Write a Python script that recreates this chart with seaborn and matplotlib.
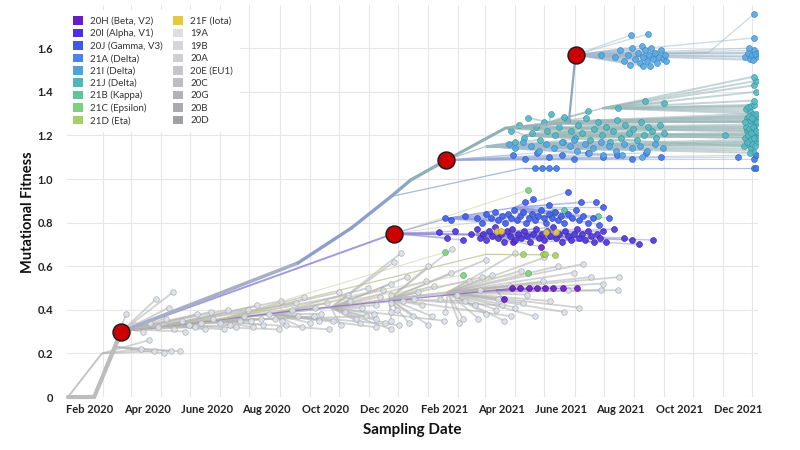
import pandas as pd
import numpy as np

import matplotlib
matplotlib.use("Agg")
import matplotlib.pyplot as plt
from matplotlib.patches import Patch
from matplotlib.collections import LineCollection
import seaborn as sns

sns.set_theme(style="white")
plt.rcParams['font.family'] = ['Lato', 'DejaVu Sans']

base = pd.Timestamp("2020-01-01")

# axis ticks
x_tick_dates = ["2020-02-01", "2020-04-01", "2020-06-01", "2020-08-01", "2020-10-01", "2020-12-01",
                "2021-02-01", "2021-04-01", "2021-06-01", "2021-08-01", "2021-10-01", "2021-12-01"]
x_tick_labels = ["Feb 2020", "Apr 2020", "June 2020", "Aug 2020", "Oct 2020", "Dec 2020",
                 "Feb 2021", "Apr 2021", "June 2021", "Aug 2021", "Oct 2021", "Dec 2021"]
y_ticks = [0, 0.2, 0.4, 0.6, 0.8, 1.0, 1.2, 1.4, 1.6]
y_tick_labels = ["0", "0.2", "0.4", "0.6", "0.8", "1.0", "1.2", "1.4", "1.6"]

# legend (clade colours)
legend_names = ["20H (Beta, V2)", "20I (Alpha, V1)", "20J (Gamma, V3)", "21A (Delta)", "21I (Delta)",
                "21J (Delta)", "21B (Kappa)", "21C (Epsilon)", "21D (Eta)",
                "21F (Iota)", "19A", "19B", "20A", "20E (EU1)", "20C", "20G", "20B", "20D"]
legend_colors = ["#681cc6", "#4e2fd8", "#3f58e6", "#4a86ea", "#4ea3dc", "#4fb8bc", "#5fc49d", "#7dd07f", "#a5d064",
                 "#e4c940", "#dcdee1", "#d4d6d9", "#cdcfd3", "#c4c6ca", "#bcbec2", "#b1b3b7", "#a8aaae", "#9fa1a5"]

# internal tree nodes: day since 2020-01-01, fitness, parent node, branch group
node_day = [9, 36, 64, 246, 301, 342, 362, 399, 460, 525, 532,
            44, 56, 72, 110, 160, 220, 280, 340, 400,
            345, 430, 400, 470, 250, 450, 170, 440,
            440, 480, 505, 560, 478, 669]
node_fit = [0.0, 0.0, 0.30, 0.615, 0.775, 0.92, 0.995, 1.087, 1.234, 1.257, 1.57,
            0.20, 0.23, 0.31, 0.33, 0.35, 0.38, 0.41, 0.45, 0.48,
            0.75, 0.745, 0.82, 0.87, 0.40, 0.49, 0.36, 0.655,
            1.15, 1.20, 1.26, 1.325, 1.05, 1.58]
node_parent = [-1, 0, 1, 2, 3, 4, 5, 6, 7, 8, 9,
               0, 1, 2, 13, 14, 15, 16, 17, 18,
               2, 20, 20, 22, 2, 24, 2, 26,
               7, 8, 8, 30, 5, 10]
node_group = ["trunk"] * 11 + ["grey"] * 9 + ["alpha", "alpha", "gamma", "gamma", "beta", "beta", "eps", "eps",
                                              "teal", "teal", "teal", "teal", "d21a", "top"]
red_nodes = [2, 20, 7, 10]

# sampled tips: (day, fitness, parent node)
grey_tips = [
    (84, 0.22, 11), (98, 0.21, 11), (115, 0.21, 12), (108, 0.20, 12), (124, 0.21, 12), (92, 0.26, 11),
    (69, 0.38, 12), (100, 0.45, 2), (117, 0.48, 2), (113, 0.41, 2),
    (78, 0.33, 2), (86, 0.30, 13), (94, 0.34, 13), (102, 0.32, 13), (110, 0.36, 13), (118, 0.31, 14),
    (126, 0.35, 13), (134, 0.33, 14), (142, 0.38, 13), (150, 0.31, 14), (158, 0.36, 14), (166, 0.34, 14),
    (174, 0.40, 13), (182, 0.32, 15), (190, 0.37, 14), (198, 0.35, 15), (204, 0.42, 14), (210, 0.33, 15),
    (216, 0.38, 15), (222, 0.36, 15), (228, 0.44, 14), (234, 0.33, 16), (240, 0.40, 15), (246, 0.37, 16),
    (252, 0.46, 15), (258, 0.34, 16), (264, 0.41, 16), (270, 0.38, 16), (276, 0.43, 16), (282, 0.35, 16),
    (288, 0.48, 15), (294, 0.39, 17), (300, 0.44, 17), (306, 0.36, 17), (312, 0.41, 17), (318, 0.50, 16),
    (324, 0.38, 17), (326, 0.32, 16), (326, 0.36, 17), (326, 0.42, 17), (330, 0.46, 17), (336, 0.34, 17),
    (342, 0.31, 17), (342, 0.35, 18), (342, 0.39, 18), (342, 0.43, 18), (342, 0.47, 18), (342, 0.52, 17),
    (348, 0.40, 18), (354, 0.44, 18), (358, 0.55, 17), (364, 0.37, 18), (370, 0.48, 18), (374, 0.42, 18),
    (380, 0.33, 18), (386, 0.51, 18), (392, 0.45, 19), (398, 0.39, 19), (404, 0.57, 18), (410, 0.47, 19),
    (416, 0.36, 19), (422, 0.53, 19), (428, 0.42, 19), (434, 0.49, 19), (440, 0.38, 19), (446, 0.56, 19),
    (452, 0.45, 19), (458, 0.35, 19), (464, 0.51, 19), (470, 0.41, 19), (476, 0.58, 19), (482, 0.47, 19),
    (490, 0.37, 19), (498, 0.53, 19), (506, 0.44, 19), (514, 0.60, 19), (524, 0.49, 19), (536, 0.41, 19),
    (548, 0.55, 19), (558, 0.49, 19), (540, 0.61, 19),
    (345, 0.62, 17), (352, 0.66, 17), (380, 0.60, 18), (405, 0.68, 18), (440, 0.63, 18), (470, 0.66, 19),
    (500, 0.64, 19),
    (130, 0.30, 13), (146, 0.34, 14), (170, 0.31, 14), (186, 0.35, 15), (200, 0.32, 15), (230, 0.35, 16),
    (250, 0.32, 16), (268, 0.35, 16), (290, 0.33, 17), (310, 0.34, 17), (360, 0.34, 18), (384, 0.37, 18),
    (412, 0.34, 19), (432, 0.36, 19), (450, 0.40, 19), (478, 0.43, 19),
    (140, 0.32, 13), (156, 0.39, 13), (176, 0.33, 13), (194, 0.40, 14), (208, 0.36, 13), (226, 0.31, 14),
    (244, 0.43, 14), (262, 0.37, 14), (278, 0.31, 15), (298, 0.47, 15), (316, 0.37, 15), (334, 0.49, 16),
    (350, 0.33, 16), (366, 0.45, 17), (378, 0.53, 17), (396, 0.35, 17), (418, 0.44, 18), (436, 0.55, 18),
    (456, 0.42, 18), (466, 0.37, 18), (486, 0.50, 18), (520, 0.39, 19), (530, 0.57, 19), (560, 0.52, 19),
    (576, 0.49, 19), (577, 0.55, 19)]

alpha_tips = [
    (391, 0.755, 20), (400, 0.73, 20), (408, 0.76, 20), (416, 0.72, 20), (424, 0.75, 20), (430, 0.77, 21),
    (434, 0.73, 21), (437, 0.75, 21), (440, 0.72, 21), (443, 0.76, 21), (446, 0.74, 21), (449, 0.78, 21),
    (452, 0.73, 21), (455, 0.75, 21), (458, 0.71, 21), (461, 0.76, 21), (464, 0.74, 21), (467, 0.77, 21),
    (470, 0.72, 21), (473, 0.75, 21), (476, 0.73, 21), (479, 0.76, 21), (482, 0.74, 21), (485, 0.71, 21),
    (488, 0.75, 21), (491, 0.77, 21), (494, 0.73, 21), (497, 0.75, 21), (500, 0.72, 21), (503, 0.76, 21),
    (506, 0.74, 21), (509, 0.78, 21), (512, 0.73, 21), (515, 0.75, 21), (518, 0.71, 21), (521, 0.76, 21),
    (524, 0.74, 21), (527, 0.72, 21), (530, 0.75, 21), (533, 0.77, 21), (536, 0.73, 21), (539, 0.75, 21),
    (542, 0.72, 21), (545, 0.76, 21), (548, 0.74, 21), (551, 0.71, 21), (554, 0.75, 21), (557, 0.73, 21),
    (560, 0.76, 21), (563, 0.71, 21), (572, 0.77, 21), (582, 0.73, 21), (590, 0.72, 21), (597, 0.70, 21),
    (612, 0.72, 21)]

gamma_tips = [
    (398, 0.82, 22), (404, 0.81, 22), (418, 0.83, 22), (430, 0.82, 22), (436, 0.80, 22), (440, 0.84, 22),
    (445, 0.82, 22), (449, 0.85, 22), (452, 0.81, 22), (456, 0.83, 22), (459, 0.80, 22), (462, 0.84, 22),
    (466, 0.82, 22), (469, 0.86, 23), (472, 0.81, 22), (475, 0.83, 23), (478, 0.85, 23), (481, 0.80, 22),
    (484, 0.82, 23), (487, 0.84, 23), (490, 0.81, 23), (493, 0.83, 23), (496, 0.86, 23), (499, 0.82, 23),
    (502, 0.80, 22), (505, 0.84, 23), (508, 0.82, 23), (511, 0.85, 23), (514, 0.81, 23), (517, 0.83, 23),
    (520, 0.80, 23), (524, 0.84, 23), (528, 0.82, 23), (532, 0.86, 23), (536, 0.81, 23), (540, 0.83, 23),
    (545, 0.80, 23), (550, 0.82, 23), (556, 0.79, 23), (480, 0.895, 23), (488, 0.91, 23), (505, 0.88, 23),
    (524, 0.94, 23), (538, 0.895, 23), (553, 0.895, 23), (560, 0.87, 23), (566, 0.82, 23)]

beta_tips = [(458, 0.45, 25), (467, 0.50, 25), (475, 0.50, 25), (484, 0.50, 25), (492, 0.50, 25),
             (501, 0.50, 25), (509, 0.50, 25), (519, 0.50, 25), (534, 0.50, 25), (468, 0.71, 21), (496, 0.69, 21)]
epsilon_tips = [(398, 0.665, 26), (416, 0.56, 26), (483, 0.57, 26), (483, 0.95, 20), (509, 0.85, 20)]
eta_tips = [(478, 0.655, 27), (498, 0.655, 27), (501, 0.655, 27), (511, 0.65, 27)]
kappa_tips = [(555, 0.83, 22), (520, 0.86, 22)]
iota_tips = [(451, 0.76, 21), (455, 0.76, 21), (502, 0.757, 21), (512, 0.755, 21)]

delta21j_tips = [
    (466, 1.22, 8), (470, 1.17, 28), (474, 1.25, 8), (479, 1.19, 29), (483, 1.28, 30), (487, 1.21, 29),
    (491, 1.24, 8), (495, 1.18, 28), (499, 1.26, 30), (503, 1.22, 29), (507, 1.30, 30), (511, 1.20, 29),
    (515, 1.24, 8), (519, 1.17, 28), (523, 1.27, 30), (527, 1.22, 29), (531, 1.19, 29), (535, 1.25, 30),
    (539, 1.21, 8), (543, 1.28, 30), (547, 1.18, 29), (551, 1.23, 8), (555, 1.26, 30), (559, 1.20, 29),
    (563, 1.24, 30), (567, 1.17, 28), (571, 1.22, 29), (575, 1.27, 30), (579, 1.19, 29), (583, 1.25, 30),
    (587, 1.21, 8), (591, 1.23, 29), (595, 1.18, 28), (599, 1.26, 30), (603, 1.20, 29), (607, 1.24, 30),
    (611, 1.22, 29), (615, 1.19, 29), (619, 1.25, 30), (623, 1.21, 29),
    (520, 1.285, 30), (576, 1.325, 31), (604, 1.36, 31), (623, 1.35, 31), (545, 1.31, 30),
    (706, 1.15, 29), (709, 1.22, 8), (711, 1.18, 28), (713, 1.26, 30), (715, 1.13, 28), (717, 1.20, 29),
    (719, 1.29, 30), (708, 1.24, 8), (710, 1.16, 28), (712, 1.31, 31), (714, 1.21, 29), (716, 1.27, 30),
    (718, 1.17, 28), (707, 1.19, 29), (709, 1.28, 30), (711, 1.23, 8), (713, 1.14, 28), (715, 1.30, 31),
    (717, 1.25, 8), (719, 1.19, 29), (708, 1.32, 31), (710, 1.20, 29), (712, 1.27, 30), (714, 1.16, 28),
    (716, 1.23, 8), (718, 1.30, 30), (707, 1.26, 30), (709, 1.17, 28), (711, 1.29, 30), (713, 1.21, 29),
    (715, 1.24, 8), (717, 1.15, 28), (719, 1.26, 30), (710, 1.33, 31), (712, 1.12, 28), (714, 1.28, 30),
    (716, 1.19, 29), (718, 1.22, 8), (713, 1.335, 31), (716, 1.34, 31), (716, 1.36, 31), (718, 1.40, 31),
    (716, 1.43, 31), (718, 1.45, 31), (716, 1.47, 31), (686, 1.20, 29)]

delta21i_tips = [
    (463, 1.16, 28), (470, 1.14, 28), (478, 1.17, 28), (486, 1.15, 28), (494, 1.13, 28), (502, 1.16, 28),
    (510, 1.14, 28), (518, 1.17, 28), (526, 1.15, 28), (534, 1.13, 28), (542, 1.16, 28), (550, 1.14, 28),
    (558, 1.17, 28), (566, 1.15, 28), (574, 1.13, 28), (582, 1.16, 28), (590, 1.14, 28), (598, 1.15, 28),
    (606, 1.13, 28), (614, 1.16, 28), (622, 1.14, 28), (580, 1.11, 28), (600, 1.10, 28), (560, 1.11, 28),
    (530, 1.18, 28), (546, 1.12, 28),
    (558, 1.57, 10), (573, 1.56, 10), (578, 1.59, 10), (582, 1.54, 10), (586, 1.57, 10), (589, 1.66, 10),
    (590, 1.60, 10), (593, 1.55, 10), (596, 1.58, 10), (598, 1.53, 10), (600, 1.61, 10), (602, 1.56, 10),
    (604, 1.59, 10), (606, 1.54, 10), (607, 1.665, 10), (608, 1.57, 10), (610, 1.60, 10), (612, 1.55, 10),
    (614, 1.58, 10), (616, 1.53, 10), (618, 1.56, 10), (620, 1.59, 10), (622, 1.55, 10), (624, 1.57, 10),
    (625, 1.54, 10), (609, 1.52, 10), (601, 1.52, 10), (588, 1.525, 10),
    (707, 1.56, 10), (710, 1.58, 10), (712, 1.55, 10), (714, 1.57, 10), (716, 1.59, 10), (718, 1.56, 10),
    (719, 1.58, 10), (711, 1.60, 10), (715, 1.545, 10), (717, 1.575, 10), (716, 1.647, 10), (716, 1.757, 33)]

delta21a_tips = [
    (468, 1.11, 7), (480, 1.09, 7), (492, 1.12, 7), (505, 1.10, 7), (518, 1.11, 7), (530, 1.09, 7),
    (545, 1.12, 7), (560, 1.10, 7), (575, 1.11, 7), (590, 1.09, 7), (605, 1.12, 7), (620, 1.10, 7),
    (490, 1.05, 32), (497, 1.05, 32), (505, 1.05, 32), (512, 1.05, 32), (716, 1.05, 32), (718, 1.05, 32),
    (716, 1.09, 7), (718, 1.11, 7), (699, 1.10, 7)]

# clade -> (tips, point fill, point edge, branch colour)
clades = {
    "grey": (grey_tips, "#dde1e7", "#a3a8b0", "#b4b4b4"),
    "20H": (beta_tips, "#681cc6", "#4e109a", "#8d6cc8"),
    "21C": (epsilon_tips, "#7dd07f", "#5aa85c", "#c4c89c"),
    "21D": (eta_tips, "#a5d064", "#80a845", "#c4c89c"),
    "21B": (kappa_tips, "#5fc49d", "#3f9c78", "#9aa6dc"),
    "20J": (gamma_tips, "#3f5ee8", "#2d44b8", "#929fde"),
    "20I": (alpha_tips, "#4e34dc", "#3822aa", "#8e8ad6"),
    "21F": (iota_tips, "#e4c940", "#b89e20", "#9c98d4"),
    "21A": (delta21a_tips, "#3f7ae6", "#2c5cb8", "#98a9d8"),
    "21J": (delta21j_tips, "#52b8c4", "#3a939e", "#9fb9b9"),
    "21I": (delta21i_tips, "#55a8e4", "#3a86bf", "#a2b9cb"),
}
group_line = {"grey": "#b8b8b8", "alpha": "#8783d4", "gamma": "#8e9cdc", "beta": "#8d6cc8",
              "eps": "#c0c590", "teal": "#9fb9ba", "d21a": "#95a7d6", "top": "#a0b7c8"}
line_width = {"grey": 1.3, "21J": 1.4, "21I": 1.0, "20I": 1.0, "20J": 0.9}

fig = plt.figure(figsize=(8, 4.5), dpi=100)
ax = fig.add_axes([67 / 800, 1 - 397 / 450, 691 / 800, 392.4 / 450])

# internal branches (non-trunk)
for grp, col in group_line.items():
    segs = [[(node_day[node_parent[i]], node_fit[node_parent[i]]), (node_day[i], node_fit[i])]
            for i in range(len(node_day)) if node_group[i] == grp and node_parent[i] >= 0]
    if segs:
        lw = 1.4 if grp in ("alpha", "grey") else 0.9
        ax.add_collection(LineCollection(segs, colors=col, linewidths=lw, alpha=0.8, zorder=2))

# tip branches + tips
for name, (tips, fill, edge, lcol) in clades.items():
    df = pd.DataFrame(tips, columns=["day", "fit", "node"])
    segs = [[(node_day[n], node_fit[n]), (d, f)] for d, f, n in tips]
    z = 1 if name == "grey" else 3
    ax.add_collection(LineCollection(segs, colors=lcol, linewidths=line_width.get(name, 0.8),
                                     alpha=0.6 if name in ("grey", "21J") else 0.5, zorder=z))
    sns.scatterplot(data=df, x="day", y="fit", color=fill, edgecolor=edge, linewidth=0.5,
                    s=16 if name == "grey" else 18, alpha=0.9, ax=ax, zorder=z + 1, legend=False)

# backbone
trunk_cols = ["#bcbcbc", "#bcbcbc", "#bcbcbc", "#a9aec8", "#8c9fcc", "#8c9fcc", "#8da6c4",
              "#8fb0b8", "#8fb0b8", "#97b2bb", "#8aa8c0"]
trunk_lws = [3.0, 3.0, 3.0, 2.6, 2.4, 2.4, 2.4, 2.4, 2.2, 1.8, 1.6]
trunk_segs, tc, tw = [], [], []
for i in range(len(node_day)):
    if node_group[i] == "trunk" and node_parent[i] >= 0:
        p = node_parent[i]
        trunk_segs.append([(node_day[p], node_fit[p]), (node_day[i], node_fit[i])])
        tc.append(trunk_cols[i])
        tw.append(trunk_lws[i])
ax.add_collection(LineCollection(trunk_segs, colors=tc, linewidths=tw, zorder=5, clip_on=False,
                                 capstyle="round"))

red = pd.DataFrame({"day": [node_day[i] for i in red_nodes], "fit": [node_fit[i] for i in red_nodes]})
sns.scatterplot(data=red, x="day", y="fit", color="#cc0000", edgecolor="#1a1a1a", linewidth=1.0,
                s=150, ax=ax, zorder=10, legend=False)

# axes
ax.set_xlim(8, 720)
ax.set_ylim(0, 1.8)
tick_days = [(pd.Timestamp(d) - base).days for d in x_tick_dates]
grid_days = [(d - base).days for d in pd.date_range("2020-01-15", "2021-12-15", freq="MS") + pd.Timedelta(days=14)]
ax.set_xticks(tick_days)
ax.set_xticklabels(x_tick_labels, fontsize=8, fontweight="bold", color="#222222")
ax.set_xticks(grid_days, minor=True)
ax.set_yticks(y_ticks)
ax.set_yticklabels(y_tick_labels, fontsize=8, fontweight="bold", color="#222222")
ax.tick_params(axis="both", which="both", length=0)
ax.tick_params(axis="x", pad=5)
ax.tick_params(axis="y", pad=10)
ax.grid(False)
ax.grid(True, which="minor", axis="x", color="#e6e6e6", linewidth=0.8, zorder=0)
ax.grid(True, which="major", axis="y", color="#e6e6e6", linewidth=0.8, zorder=0)
ax.set_axisbelow(True)
for s in ax.spines.values():
    s.set_visible(False)

ax.set_xlabel("Sampling Date", fontsize=11, fontweight="bold", color="#111111")
ax.set_ylabel("Mutational Fitness", fontsize=10.5, fontweight="bold", color="#111111")
ax.xaxis.set_label_coords(0.5, -0.066)
ax.yaxis.set_label_coords(-0.047, 0.47)

handles = [Patch(facecolor=c, edgecolor="none") for c in legend_colors]
leg = ax.legend(handles, legend_names, ncol=2, loc="upper left", bbox_to_anchor=(0.0, 0.985),
                fontsize=7, frameon=True, fancybox=False, framealpha=1.0, facecolor="white",
                edgecolor="white", handlelength=1.0, handleheight=1.0, handletextpad=0.8,
                labelspacing=0.28, columnspacing=1.0, borderpad=0.6, borderaxespad=0.0)
leg.set_zorder(20)
for t in leg.get_texts():
    t.set_color("#333333")

fig.savefig("out.png", dpi=100, facecolor="white")
